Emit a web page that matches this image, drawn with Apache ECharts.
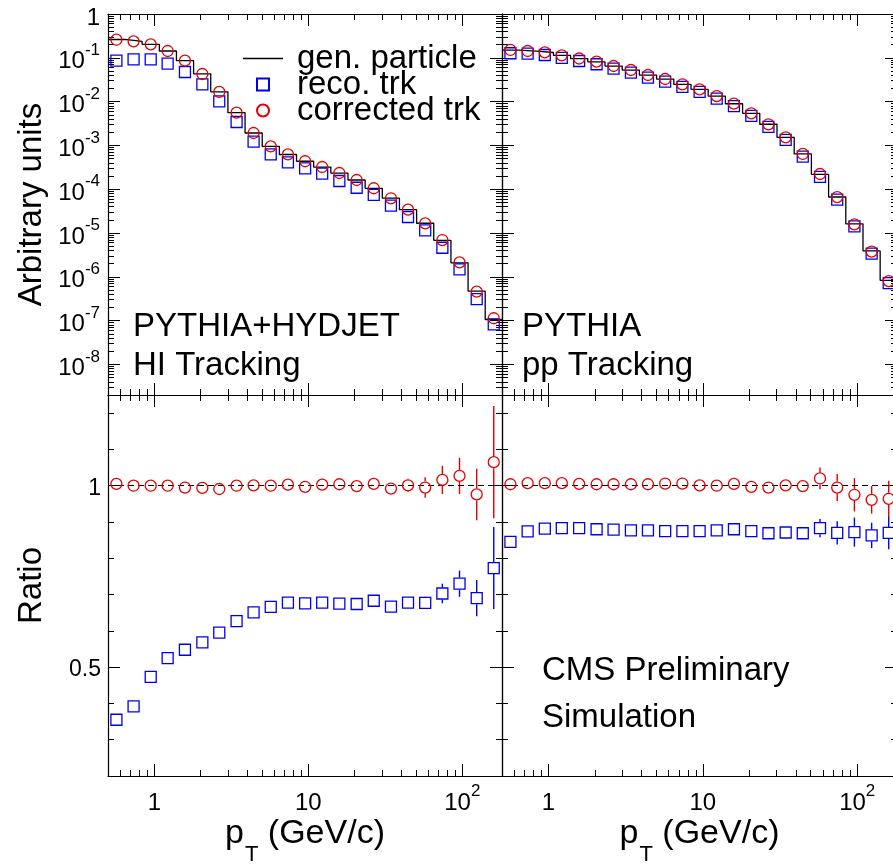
<!DOCTYPE html>
<html>
<head>
<meta charset="utf-8">
<script src="https://cdn.jsdelivr.net/npm/echarts@6/dist/echarts.min.js"></script>
<style>
  html, body { margin: 0; padding: 0; background: #fff; }
  #chart { width: 893px; height: 865px; }
</style>
</head>
<body>
<div id="chart"></div>
<script>
// pT bin centres and bin edges (GeV/c), shared by both samples
const pT = [0.567, 0.733, 0.947, 1.22, 1.58, 2.05, 2.64, 3.42, 4.41, 5.70, 7.37, 9.53,
            12.3, 15.9, 20.6, 26.6, 34.4, 44.4, 57.4, 74.2, 95.9, 124, 160];
const binEdges = [0.5, 0.645, 0.833, 1.077, 1.391, 1.798, 2.324, 3.004, 3.882, 5.017, 6.484,
                  8.381, 10.83, 14.0, 18.09, 23.38, 30.22, 39.06, 50.48, 65.24, 84.34, 109.0, 140.8, 182.0];

// PYTHIA+HYDJET, HI tracking
const hiGen  = [0.262, 0.238, 0.203, 0.143, 0.086, 0.043, 0.0167, 0.0056, 0.00192, 9.5e-4, 6.2e-4, 4.35e-4,
                3.2e-4, 2.33e-4, 1.62e-4, 1.045e-4, 6.25e-5, 3.4e-5, 1.67e-5, 6.8e-6, 2.08e-6, 4.7e-7, 1.06e-7];
const hiReco = [0.0859, 0.0923, 0.0923, 0.0734, 0.0474, 0.0248, 0.01015, 0.00342, 0.00122, 6.26e-4, 4.11e-4, 3.0e-4,
                2.26e-4, 1.54e-4, 1.08e-4, 7.4e-5, 4.2e-5, 2.32e-5, 1.15e-5, 4.6e-6, 1.48e-6, 3.1e-7, 8.2e-8];
const hiCorr = [0.259, 0.238, 0.203, 0.143, 0.0859, 0.0427, 0.0166, 0.00558, 0.00192, 9.5e-4, 6.25e-4, 4.34e-4,
                3.21e-4, 2.34e-4, 1.62e-4, 1.05e-4, 6.2e-5, 3.41e-5, 1.66e-5, 6.9e-6, 2.14e-6, 4.57e-7, 1.13e-7];
const hiRecoRatio = [0.355, 0.392, 0.473, 0.525, 0.548, 0.568, 0.595, 0.627, 0.651, 0.666, 0.678, 0.676,
                     0.678, 0.675, 0.674, 0.683, 0.667, 0.678, 0.677, 0.703, 0.730, 0.690, 0.773];
const hiRecoErr   = [0, 0, 0, 0, 0, 0, 0, 0, 0, 0, 0, 0, 0, 0, 0, 0, 0, 0, 0.017, 0.027, 0.036, 0.05, 0.113];
const hiCorrRatio = [1.005, 1.0, 1.0, 1.0, 0.995, 0.994, 0.991, 1.0, 1.001, 1.0, 1.003, 0.997,
                     1.003, 1.004, 0.999, 1.005, 0.992, 1.001, 0.995, 1.016, 1.027, 0.976, 1.065];
const hiCorrErr   = [0, 0, 0, 0, 0, 0, 0, 0, 0, 0, 0, 0, 0, 0, 0, 0, 0, 0.018, 0.028, 0.039, 0.05, 0.071, 0.155];

// PYTHIA, pp tracking
const ppGen  = [0.150, 0.142, 0.132, 0.113, 0.0958, 0.081, 0.0646, 0.0524, 0.0403, 0.0326, 0.0247, 0.019,
                0.0134, 0.00893, 0.00541, 0.00304, 0.00153, 6.38e-4, 2.18e-4, 6.63e-5, 1.62e-5, 3.9e-6, 8.3e-7];
const ppReco = [0.127, 0.124, 0.116, 0.0998, 0.0846, 0.0713, 0.0568, 0.046, 0.0353, 0.0285, 0.0216, 0.0166,
                0.01175, 0.00786, 0.00473, 0.00264, 0.00133, 5.55e-4, 1.92e-4, 5.77e-5, 1.41e-5, 3.37e-6, 7.2e-7];
const ppCorr = [0.151, 0.143, 0.133, 0.114, 0.0964, 0.0815, 0.065, 0.0527, 0.0405, 0.0328, 0.0248, 0.019,
                0.0134, 0.00897, 0.0054, 0.00303, 0.00153, 6.37e-4, 2.22e-4, 6.6e-5, 1.58e-5, 3.75e-6, 8.0e-7];
const ppRecoRatio = [0.845, 0.874, 0.882, 0.883, 0.883, 0.880, 0.879, 0.877, 0.877, 0.875, 0.875, 0.875,
                     0.877, 0.880, 0.875, 0.869, 0.871, 0.869, 0.883, 0.870, 0.872, 0.863, 0.870];
const ppRecoErr   = [0, 0, 0, 0, 0, 0, 0, 0, 0, 0, 0, 0, 0, 0, 0, 0, 0, 0.016, 0.025, 0.032, 0.04, 0.035, 0.045];
const ppCorrRatio = [1.004, 1.007, 1.007, 1.007, 1.005, 1.004, 1.004, 1.004, 1.004, 1.006, 1.006, 1.001,
                     1.0, 1.005, 0.997, 0.995, 1.001, 0.999, 1.020, 0.995, 0.975, 0.961, 0.964];
const ppCorrErr   = [0, 0, 0, 0, 0, 0, 0, 0, 0, 0, 0, 0, 0, 0, 0, 0, 0, 0.015, 0.03, 0.037, 0.046, 0.038, 0.05];

// Tick positions
const xMajorTicks = [1, 10, 100];
const xMinorTicks = [0.6, 0.7, 0.8, 0.9, 2, 3, 4, 5, 6, 7, 8, 9, 20, 30, 40, 50, 60, 70, 80, 90];
const specMajorTicks = [1e-8, 1e-7, 1e-6, 1e-5, 1e-4, 1e-3, 1e-2, 1e-1, 1];
const specMinorTicks = [];
for (let d = -9; d < 0; d++) {
  for (let m = 2; m <= 9; m++) specMinorTicks.push(+(m * Math.pow(10, d)).toPrecision(3));
}
const ratioMajorTicks = [0.5, 1];
const ratioMinorTicks = [0.3, 0.4, 0.6, 0.7, 0.8, 0.9, 1.1, 1.2];

const FONT = '"Liberation Sans", Arial, Helvetica, sans-serif';
const RED = '#e00000';
const BLUE = '#0000f0';
const MAJOR_LEN = 12, MINOR_LEN = 6;
const TITLE_SIZE = 33;

// tick labels: base number sitting low in a 32px line, exponent raised to its top
const supRich = {
  b: { fontSize: 24, lineHeight: 32, verticalAlign: 'bottom', fontFamily: FONT, color: '#000' },
  s: { fontSize: 17, lineHeight: 17, verticalAlign: 'top', fontFamily: FONT, color: '#000' }
};
const plainRich = {
  b: { fontSize: 23, lineHeight: 28, verticalAlign: 'bottom', fontFamily: FONT, color: '#000' }
};

function yPowerLabel(v) {
  const e = Math.round(Math.log10(v));
  return e === 0 ? '{b|1}' : '{b|10}{s|' + e + '}';
}
function xPowerLabel(v) {
  const e = Math.round(Math.log10(v));
  if (e === 0) return '{b|1}';
  if (e === 1) return '{b|10}';
  return '{b|10}{s|' + e + '}';
}

// Builds four axes of one dimension for a pad: main + minor ticks on the
// primary side, and mirrored major + minor ticks on the opposite side.
function padAxes(dim, grid, cfg) {
  const sides = dim === 'x' ? ['bottom', 'top'] : ['left', 'right'];
  const out = [];
  sides.forEach((side, si) => {
    [[cfg.major, MAJOR_LEN], [cfg.minor, MINOR_LEN]].forEach(([ticks, len], ti) => {
      const axis = {
        gridIndex: grid,
        type: cfg.type,
        min: cfg.min,
        max: cfg.max,
        position: side,
        silent: true,
        splitLine: { show: false },
        axisPointer: { show: false },
        axisLine: { show: ti === 0, onZero: false, lineStyle: { color: '#000', width: 1.2 } },
        axisTick: { show: true, inside: true, length: len, customValues: ticks,
                    lineStyle: { color: '#000', width: 1 } },
        axisLabel: { show: false }
      };
      if (cfg.type === 'log') axis.logBase = 10;
      if (si === 0 && ti === 0) {
        if (cfg.labels) {
          axis.axisLabel = Object.assign({ show: true, customValues: cfg.labelValues, fontSize: 23,
                                           fontFamily: FONT, color: '#000' }, cfg.labels);
        }
        if (cfg.name) Object.assign(axis, cfg.name);
      }
      out.push(axis);
    });
  });
  return out;
}

const xCfg = { type: 'log', min: 0.5, max: 181, major: xMajorTicks, minor: xMinorTicks };
const specCfg = { type: 'log', min: 2e-9, max: 1, major: specMajorTicks, minor: specMinorTicks };
const ratioCfg = { type: 'value', min: 0.2, max: 1.25, major: ratioMajorTicks, minor: ratioMinorTicks };

const xLabelOpts = { labelValues: xMajorTicks, labels: { formatter: xPowerLabel, margin: 7, rich: supRich } };
const ptName = {
  name: '{p|p}{t|T}{n| (GeV/c)}',
  nameLocation: 'middle',
  nameGap: 41,
  nameTextStyle: {
    rich: {
      p: { fontSize: 34, lineHeight: 36, verticalAlign: 'top', fontFamily: FONT, color: '#000' },
      t: { fontSize: 22, lineHeight: 22, verticalAlign: 'top', padding: [27, 0, 0, 1], fontFamily: FONT, color: '#000' },
      n: { fontSize: 34, lineHeight: 36, verticalAlign: 'top', fontFamily: FONT, color: '#000' }
    }
  }
};

const xAxes = [].concat(
  padAxes('x', 0, xCfg),
  padAxes('x', 1, xCfg),
  padAxes('x', 2, Object.assign({}, xCfg, xLabelOpts, { name: ptName })),
  padAxes('x', 3, Object.assign({}, xCfg, xLabelOpts, { name: ptName }))
);

const yAxes = [].concat(
  padAxes('y', 0, Object.assign({}, specCfg, {
    labelValues: specMajorTicks,
    labels: { formatter: yPowerLabel, margin: 8, rich: supRich },
    name: { name: 'Arbitrary units', nameLocation: 'middle', nameGap: 60, nameRotate: 90,
            nameTextStyle: { fontSize: TITLE_SIZE, fontFamily: FONT, color: '#000' } }
  })),
  padAxes('y', 1, specCfg),
  padAxes('y', 2, Object.assign({}, ratioCfg, {
    labelValues: ratioMajorTicks,
    labels: { formatter: v => '{b|' + v + '}', margin: 7, rich: plainRich },
    name: { name: 'Ratio', nameLocation: 'middle', nameGap: 60, nameRotate: 90,
            nameTextStyle: { fontSize: TITLE_SIZE, fontFamily: FONT, color: '#000' } }
  })),
  padAxes('y', 3, ratioCfg)
);

// index of the main axis of pad g
const ax = g => 4 * g;

function histogramPoints(values) {
  const pts = [];
  values.forEach((v, i) => { pts.push([binEdges[i], v]); pts.push([binEdges[i + 1], v]); });
  return pts;
}

function markerSeries(name, pad, xs, ys, symbol, color, extra) {
  return Object.assign({
    name: name,
    type: 'scatter',
    xAxisIndex: ax(pad), yAxisIndex: ax(pad),
    symbol: symbol,
    symbolSize: 11,
    itemStyle: { color: 'rgba(0,0,0,0)', borderColor: color, borderWidth: 1.3, opacity: 1 },
    data: xs.map((x, i) => [x, ys[i]]),
    z: 5
  }, extra || {});
}

function errorBars(pad, ys, errs, color) {
  const half = 6;
  return {
    type: 'custom',
    xAxisIndex: ax(pad), yAxisIndex: ax(pad),
    silent: true,
    clip: true,
    z: 4,
    encode: { x: 0, y: 1 },
    data: pT.map((x, i) => [x, ys[i], errs[i]]),
    renderItem: function (params, api) {
      const x = api.value(0), y = api.value(1), e = api.value(2);
      if (!(e > 0)) return null;
      const c = api.coord([x, y]);
      const hi = api.coord([x, y + e]);
      const lo = api.coord([x, y - e]);
      const style = { stroke: color, lineWidth: 1.4, fill: null };
      const children = [];
      if (hi[1] < c[1] - half) children.push({ type: 'line', shape: { x1: c[0], y1: hi[1], x2: c[0], y2: c[1] - half }, style: style });
      if (lo[1] > c[1] + half) children.push({ type: 'line', shape: { x1: c[0], y1: c[1] + half, x2: c[0], y2: lo[1] }, style: style });
      return { type: 'group', children: children };
    }
  };
}

const unityLine = {
  silent: true,
  symbol: ['none', 'none'],
  label: { show: false },
  lineStyle: { color: '#000', type: [6, 4], width: 1 },
  emphasis: { disabled: true },
  data: [{ yAxis: 1 }]
};

function genSeries(pad, values) {
  return {
    name: 'gen. particle',
    type: 'line',
    xAxisIndex: ax(pad), yAxisIndex: ax(pad),
    symbol: 'none',
    clip: true,
    lineStyle: { color: '#000', width: 1.3 },
    itemStyle: { color: '#000' },
    data: histogramPoints(values),
    z: 3
  };
}

const series = [
  genSeries(0, hiGen),
  markerSeries('reco. trk', 0, pT, hiReco, 'rect', BLUE),
  markerSeries('corrected trk', 0, pT, hiCorr, 'circle', RED),
  genSeries(1, ppGen),
  markerSeries('reco. trk', 1, pT, ppReco, 'rect', BLUE),
  markerSeries('corrected trk', 1, pT, ppCorr, 'circle', RED),
  errorBars(2, hiRecoRatio, hiRecoErr, BLUE),
  errorBars(2, hiCorrRatio, hiCorrErr, RED),
  markerSeries('reco. trk', 2, pT, hiRecoRatio, 'rect', BLUE),
  markerSeries('corrected trk', 2, pT, hiCorrRatio, 'circle', RED, { markLine: unityLine }),
  errorBars(3, ppRecoRatio, ppRecoErr, BLUE),
  errorBars(3, ppCorrRatio, ppCorrErr, RED),
  markerSeries('reco. trk', 3, pT, ppRecoRatio, 'rect', BLUE),
  markerSeries('corrected trk', 3, pT, ppCorrRatio, 'circle', RED, { markLine: unityLine })
];

const gridBase = { outerBoundsMode: 'none', containLabel: false, show: false };
const option = {
  animation: false,
  backgroundColor: '#fff',
  textStyle: { fontFamily: FONT },
  grid: [
    Object.assign({ left: 108, top: 14, width: 394, height: 381 }, gridBase),
    Object.assign({ left: 502, top: 14, width: 395, height: 381 }, gridBase),
    Object.assign({ left: 108, top: 395, width: 394, height: 381 }, gridBase),
    Object.assign({ left: 502, top: 395, width: 395, height: 381 }, gridBase)
  ],
  xAxis: xAxes,
  yAxis: yAxes,
  legend: {
    data: [
      { name: 'gen. particle', icon: 'path://M0,0H40V1.3H0Z', itemStyle: { color: '#000', borderWidth: 0 } },
      { name: 'reco. trk', icon: 'path://M0,0H10V10H0Z' },
      { name: 'corrected trk', icon: 'circle' }
    ],
    orient: 'vertical',
    left: 243,
    top: 42,
    padding: 0,
    itemWidth: 40,
    itemHeight: 12,
    itemGap: -7,
    symbolKeepAspect: true,
    selectedMode: false,
    textStyle: { fontSize: TITLE_SIZE, color: '#000', fontFamily: FONT, padding: [0, 0, 0, 9] }
  },
  graphic: [
    { type: 'text', left: 133, top: 307, silent: true,
      style: { text: 'PYTHIA+HYDJET\nHI Tracking', fontSize: TITLE_SIZE, lineHeight: 39, fill: '#000', fontFamily: FONT } },
    { type: 'text', left: 522, top: 307, silent: true,
      style: { text: 'PYTHIA\npp Tracking', fontSize: TITLE_SIZE, lineHeight: 39, fill: '#000', fontFamily: FONT } },
    { type: 'text', left: 542, top: 647, silent: true,
      style: { text: 'CMS Preliminary\nSimulation', fontSize: TITLE_SIZE, lineHeight: 47, fill: '#000', fontFamily: FONT } }
  ],
  series: series
};

const chart = echarts.init(document.getElementById('chart'), null, { renderer: 'canvas' });
chart.setOption(option);
</script>
</body>
</html>
